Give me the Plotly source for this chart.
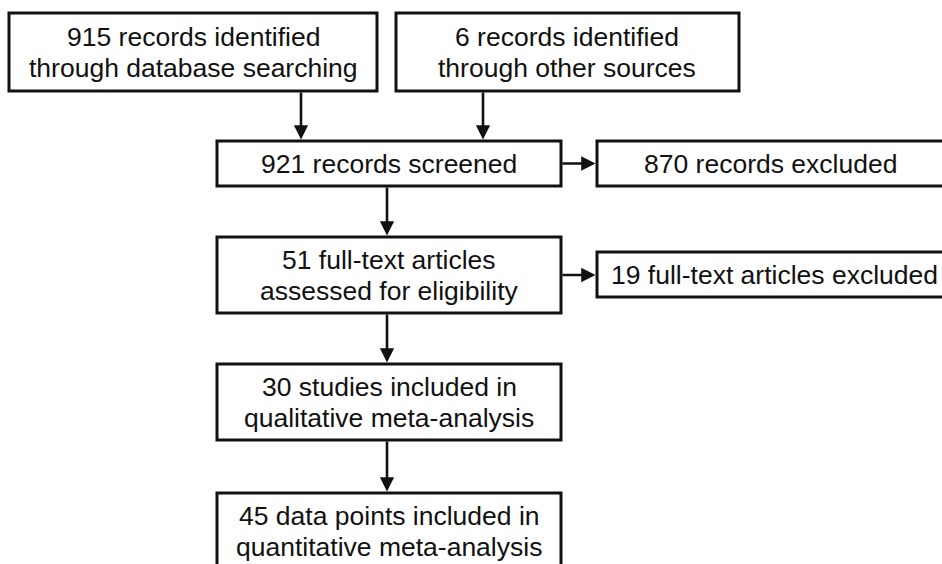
import plotly.graph_objects as go

# ---- data: box texts ----
box_labels = [
    ["915 records identified", "through database searching"],
    ["6 records identified", "through other sources"],
    ["921 records screened"],
    ["870 records excluded"],
    ["51 full-text articles", "assessed for eligibility"],
    ["19 full-text articles excluded"],
    ["30 studies included in", "qualitative meta-analysis"],
    ["45 data points included in", "quantitative meta-analysis"],
]

# ---- layout geometry (pixels, y downward) ----
box_x0 = [9, 396, 217, 597, 217, 597, 217, 217]
box_x1 = [377, 739, 561, 950, 561, 950, 561, 561]
box_y0 = [13, 13, 141, 141, 237, 252, 364, 493]
box_y1 = [91, 91, 186, 186, 313, 297, 440, 575]
text_cx = [193, 567, 389, 770, 389, 774, 389, 389]
text_cy = [52, 52, 163.5, 163.5, 275, 274.5, 402, 531]
line_gap = 31

# arrows: (tail_x, tail_y, tip_x, tip_y)
arrows = [
    (301, 91, 301, 141),
    (483, 91, 483, 141),
    (561, 163.5, 597, 163.5),
    (387, 186, 387, 237),
    (561, 275, 597, 275),
    (387, 313, 387, 364),
    (387, 440, 387, 493),
]

W, H = 942, 564
fig = go.Figure()

shapes = []
annotations = []
font = dict(family="Liberation Sans, Arial, sans-serif", size=26.5, color="#111111")
for i, lines in enumerate(box_labels):
    shapes.append(dict(type="rect", xref="x", yref="y",
                       x0=box_x0[i], x1=box_x1[i], y0=box_y0[i], y1=box_y1[i],
                       line=dict(color="#111111", width=3), fillcolor="white", layer="below"))
    n = len(lines)
    for k, ln in enumerate(lines):
        yy = text_cy[i] + (k - (n - 1) / 2) * line_gap
        annotations.append(dict(x=text_cx[i], y=yy, xref="x", yref="y",
                                text=ln, showarrow=False, font=font,
                                xanchor="center", yanchor="middle"))

for (tx, ty, hx, hy) in arrows:
    annotations.append(dict(x=hx, y=hy, ax=tx, ay=ty, xref="x", yref="y", axref="x", ayref="y",
                            text="", showarrow=True, arrowhead=2, arrowsize=1.1, arrowwidth=2.6,
                            arrowcolor="#111111", standoff=1.5, startstandoff=0))

fig.update_layout(
    width=W, height=H,
    margin=dict(l=0, r=0, t=0, b=0),
    paper_bgcolor="white", plot_bgcolor="white",
    xaxis=dict(range=[0, W], visible=False, fixedrange=True),
    yaxis=dict(range=[H, 0], visible=False, fixedrange=True),
    shapes=shapes, annotations=annotations, showlegend=False,
)

fig.write_html("out.html", config={"displayModeBar": False},
               post_script="document.body.style.margin='0';document.body.style.overflow='hidden';")
